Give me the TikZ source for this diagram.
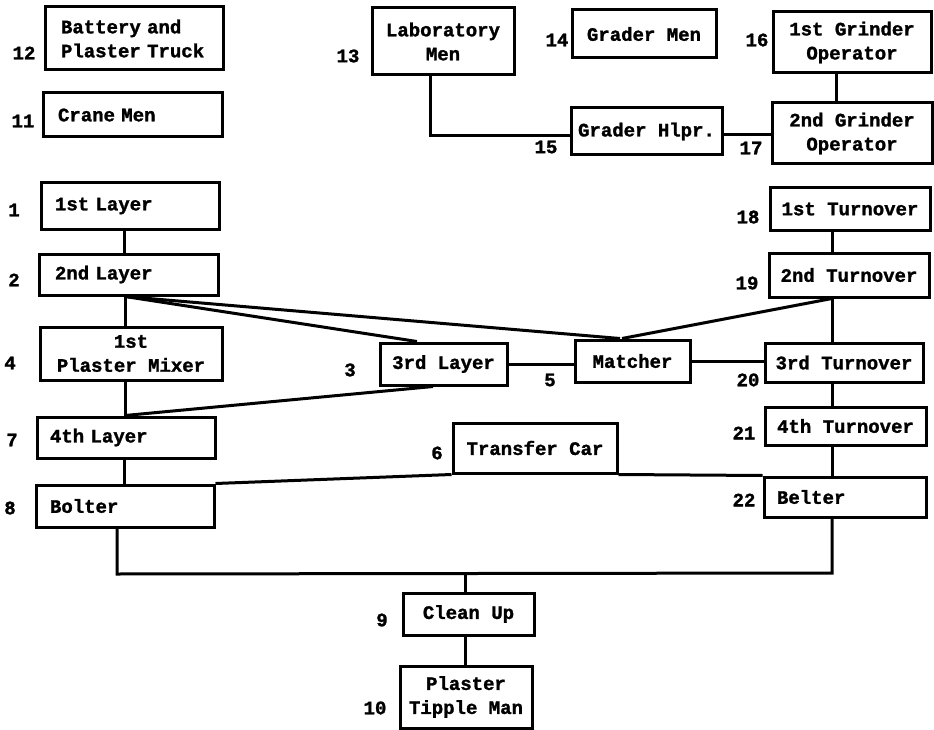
\documentclass[tikz,border=0pt]{standalone}
\usepackage{fontspec}
\newfontfamily\twfont{Liberation Mono}[BoldFeatures={FakeBold=1.5}]
\begin{document}
\begin{tikzpicture}[x=1pt,y=-1pt,
  base/.style={font=\twfont\bfseries\fontsize{19}{24}\selectfont},
  box/.style={base, draw, line width=3pt, inner sep=0pt, align=center},
  lbox/.style={box, align=left},
  num/.style={base, inner sep=0pt},
  conn/.style={line width=3pt}]
\useasboundingbox (0,0) rectangle (934,730);
% left column
\node[lbox, text width=146pt, inner xsep=16pt, minimum height=63pt] (b12) at (134,38.5) {Battery and\\Plaster Truck};
\node[lbox, text width=149pt, inner xsep=15pt, minimum height=44pt] (b11) at (132.5,115) {Crane Men};
\node[lbox, text width=150pt, inner xsep=14pt, minimum height=46pt] (b1) at (130,206) {1st Layer};
\node[lbox, text width=147pt, inner xsep=16pt, minimum height=41pt] (b2) at (128.5,274.5) {2nd Layer};
\node[box, minimum width=182pt, minimum height=53pt] (b4) at (131,353.5) {1st\\Plaster Mixer};
\node[lbox, text width=152pt, inner xsep=13pt, minimum height=41pt] (b7) at (126,437.5) {4th Layer};
\node[lbox, text width=150pt, inner xsep=14pt, minimum height=42pt] (b8) at (125,506) {Bolter};
% top middle / right
\node[box, minimum width=142pt, minimum height=67pt] (b13) at (443,41.5) {Laboratory\\Men};
\node[box, minimum width=144pt, minimum height=48pt] (b14) at (644,34) {Grader Men};
\node[box, minimum width=158pt, minimum height=61pt] (b16) at (852,42.5) {1st Grinder\\Operator};
\node[box, minimum width=151pt, minimum height=47pt] (b15) at (646.5,131.5) {Grader Hlpr.};
\node[box, minimum width=160pt, minimum height=61pt] (b17) at (852,133.5) {2nd Grinder\\Operator};
\node[box, minimum width=160pt, minimum height=42pt] (b18) at (850,209) {1st Turnover};
\node[box, minimum width=160pt, minimum height=44pt] (b19) at (849,275) {2nd Turnover};
\node[box, minimum width=127pt, minimum height=42pt] (b3) at (443.5,364) {3rd Layer};
\node[box, minimum width=115pt, minimum height=42pt] (b5) at (632.5,361) {Matcher};
\node[box, minimum width=158pt, minimum height=39pt] (b20) at (844,362.5) {3rd Turnover};
\node[box, minimum width=161pt, minimum height=38pt] (b21) at (845.5,426) {4th Turnover};
\node[box, minimum width=164pt, minimum height=50pt] (b6) at (535,448) {Transfer Car};
\node[lbox, text width=136pt, inner xsep=13pt, minimum height=40pt] (b22) at (845,497) {Belter};
\node[box, minimum width=131pt, minimum height=42pt] (b9) at (468.5,614) {Clean Up};
\node[box, minimum width=132pt, minimum height=62pt] (b10) at (466,697) {Plaster\\Tipple Man};
% numbers
\node[num] (n12) at (24,53) {12};
\node[num] (n11) at (23,121) {11};
\node[num] (n1) at (14,210) {1};
\node[num] (n2) at (14,280) {2};
\node[num] (n4) at (10,363) {4};
\node[num] (n7) at (12,440) {7};
\node[num] (n8) at (10,508) {8};
\node[num] (n13) at (348,56) {13};
\node[num] (n14) at (557,40) {14};
\node[num] (n16) at (757,40) {16};
\node[num] (n15) at (546,147) {15};
\node[num] (n17) at (751,148) {17};
\node[num] (n18) at (748,217) {18};
\node[num] (n19) at (747,283) {19};
\node[num] (n3) at (350,370) {3};
\node[num] (n5) at (550,380) {5};
\node[num] (n20) at (748,380) {20};
\node[num] (n21) at (744,433) {21};
\node[num] (n22) at (744,500) {22};
\node[num] (n6) at (437,453) {6};
\node[num] (n9) at (382,620) {9};
\node[num] (n10) at (375,708) {10};
% helper coordinates
\coordinate (xa) at (124,0);
\coordinate (xb) at (125,0);
\coordinate (x417) at (417,0);
\coordinate (x620) at (620,0);
\coordinate (x622) at (622,0);
\coordinate (x433) at (433,0);
\coordinate (xr) at (832,0);
\coordinate (xg) at (836,0);
\coordinate (busL) at (117,574);
\coordinate (busR) at (832,573);
\coordinate (busM) at (465,574);
\coordinate (c13) at (430,136);
\coordinate (h15) at (0,135);
% connectors
\draw[conn] (b1.south -| xa) -- (b2.north -| xa);
\draw[conn] (b2.south -| xb) -- (b4.north -| xb);
\draw[conn] (b4.south -| xb) -- (b7.north -| xb);
\draw[conn] (b7.south -| xa) -- (b8.north -| xa);
\draw[conn] (b2.south -| xb) -- (b3.north -| x417);
\draw[conn] (b2.south -| xb) -- (b5.north -| x620);
\draw[conn] (b3.south -| x433) -- (b7.north -| xb);
\draw[conn] (b3.east) -- (b3.east -| b5.west);
\draw[conn] (b5.east) -- (b5.east -| b20.west);
\draw[conn] (b19.south -| xr) -- (b5.north -| x622);
\draw[conn] (b18.south -| xr) -- (b19.north -| xr);
\draw[conn] (b19.south -| xr) -- (b20.north -| xr);
\draw[conn] (b20.south -| xr) -- (b21.north -| xr);
\draw[conn] (b21.south -| xr) -- (b22.north -| xr);
\draw[conn] (b8.north east) -- (b6.south west);
\draw[conn] (b6.south east) -- (b22.north west);
\draw[conn] (b8.south -| busL) -- (busL) -- (busR) -- (b22.south -| busR);
\draw[conn] (busM) -- (b9.north -| busM);
\draw[conn] (b9.south -| busM) -- (b10.north -| busM);
\draw[conn] (b13.south -| c13) -- (c13) -- (c13 -| b15.west);
\draw[conn] (b15.east |- h15) -- (b17.west |- h15);
\draw[conn] (b16.south -| xg) -- (b17.north -| xg);
\end{tikzpicture}
\end{document}
